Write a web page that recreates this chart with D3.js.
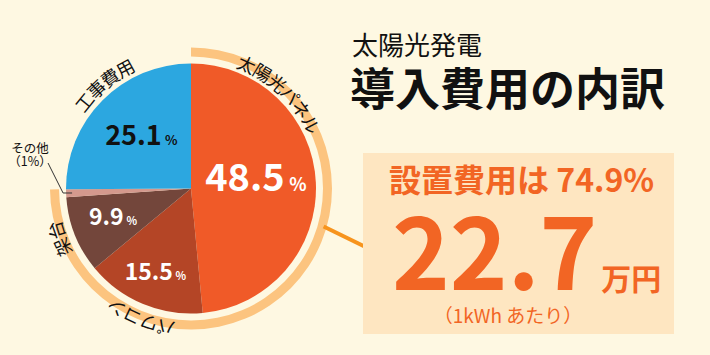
<!DOCTYPE html>
<html>
<head>
<meta charset="utf-8">
<script src="https://cdn.jsdelivr.net/npm/d3@7"></script>
<style>
  body { margin: 0; background: #fef8e2; }
  svg { display: block; font-family: "Noto Sans CJK JP", "Noto Sans", sans-serif; }
</style>
</head>
<body>
<div id="chart"></div>
<script>
// data
const categories = ["太陽光パネル", "パワコン", "架台", "その他", "工事費用"];
const shares = [48.5, 15.5, 9.9, 1, 25.1];
const setupShare = 74.9;          // 設置費用 (panel + powercon + mount + other)
const costPerKwh = 22.7;          // 万円
const titleSub = "太陽光発電";
const titleMain = "導入費用の内訳";

const width = 710, height = 355;
const cx = 191, cy = 188.5, radius = 125;

const colors = ["#f05a28", "#b44526", "#73463b", "#d4998d", "#2ca7e0"];
// label style per slice: radius of number, font size, colour, curved label angle/radius
const labelStyle = [
  { r: 65, size: 38, fill: "#fff", arcAngle: 43, arcR: 137 },
  { r: 93, size: 23, fill: "#fff", arcAngle: 201, arcR: 142 },
  { r: 84, size: 23, fill: "#fff", arcAngle: 249, arcR: 142 },
  null,
  { r: 70, size: 27, fill: "#111", arcAngle: 320, arcR: 138 }
];

const rows = categories.map((c, i) => ({ name: c, share: shares[i], i }));

const svg = d3.select("#chart").append("svg")
  .attr("width", width)
  .attr("height", height);

svg.append("rect").attr("width", width).attr("height", height).attr("fill", "#fef8e2");

const g = svg.append("g").attr("transform", "translate(" + cx + "," + cy + ")");

const pie = d3.pie().sort(null).value(d => d.share);
const arcs = pie(rows);
const arc = d3.arc().innerRadius(0).outerRadius(radius);

// ring around the setup-cost slices
const ringEnd = 2 * Math.PI * setupShare / 100;
g.append("path")
  .attr("d", d3.arc().innerRadius(132).outerRadius(141).startAngle(0).endAngle(ringEnd)())
  .attr("fill", "#fcc47f");

g.selectAll("path.slice")
  .data(arcs)
  .enter().append("path")
  .attr("class", "slice")
  .attr("d", arc)
  .attr("fill", d => colors[d.data.i]);

function polar(angle, r) {
  return [Math.sin(angle) * r, -Math.cos(angle) * r];
}

// number labels
arcs.forEach(d => {
  const st = labelStyle[d.data.i];
  if (!st) return;
  const mid = (d.startAngle + d.endAngle) / 2;
  const p = polar(mid, st.r);
  const t = g.append("text")
    .attr("x", p[0]).attr("y", p[1])
    .attr("dy", "0.36em")
    .attr("text-anchor", "middle")
    .attr("fill", st.fill)
    .attr("font-weight", 700);
  t.append("tspan").attr("font-size", st.size).text(d.data.share.toFixed(1));
  t.append("tspan").attr("font-size", Math.round(st.size * 0.48)).attr("dx", st.size * 0.12).text("%");
});

// curved category labels
const defs = svg.append("defs");
arcs.forEach(d => {
  const st = labelStyle[d.data.i];
  if (!st) return;
  const R = st.arcR;
  const id = "lbl" + d.data.i;
  defs.append("path")
    .attr("id", id)
    .attr("d", `M0,${-R} A${R},${R} 0 1,1 0,${R} A${R},${R} 0 1,1 0,${-R}`);
  g.append("text")
    .attr("font-size", 18)
    .attr("fill", "#111")
    .attr("dominant-baseline", "central")
    .append("textPath")
    .attr("href", "#" + id)
    .attr("startOffset", R * st.arcAngle * Math.PI / 180)
    .attr("text-anchor", "middle")
    .text(d.data.name);
});

// その他 label + leader
const other = arcs[3];
const otherMid = (other.startAngle + other.endAngle) / 2;
const otherEnd = polar(otherMid, radius - 6);
const otherLabel = [30 - cx, 0];
const lt = svg.append("text")
  .attr("text-anchor", "middle")
  .attr("font-size", 12.5)
  .attr("fill", "#111");
lt.append("tspan").attr("x", 30).attr("y", 153).text("その他");
lt.append("tspan").attr("x", 30).attr("y", 166).text("（" + other.data.share + "%）");
g.append("path")
  .attr("d", d3.line()([[48 - cx, 163 - cy], [otherEnd[0] - 9, otherEnd[1]], otherEnd]))
  .attr("fill", "none")
  .attr("stroke", "#333")
  .attr("stroke-width", 1);

// titles
svg.append("text")
  .attr("x", 352).attr("y", 55)
  .attr("font-size", 26)
  .attr("fill", "#111")
  .text(titleSub);
svg.append("text")
  .attr("x", 350).attr("y", 106)
  .attr("font-size", 45)
  .attr("font-weight", 700)
  .attr("fill", "#111")
  .text(titleMain);

// cost box
const box = { x: 363, y: 153, w: 311, h: 181 };
const leadStart = polar(106 * Math.PI / 180, 138);
g.append("line")
  .attr("x1", leadStart[0]).attr("y1", leadStart[1])
  .attr("x2", 382 - cx).attr("y2", 255 - cy)
  .attr("stroke", "#f7941d")
  .attr("stroke-width", 4);

svg.append("rect")
  .attr("x", box.x).attr("y", box.y)
  .attr("width", box.w).attr("height", box.h)
  .attr("fill", "#fee6c1");

const orange = "#f26524";
svg.append("text")
  .attr("x", 389).attr("y", 192)
  .attr("font-size", 32)
  .attr("font-weight", 700)
  .attr("fill", orange)
  .text("設置費用は " + setupShare + "%");

const big = svg.append("text")
  .attr("x", 392).attr("y", 290)
  .attr("font-weight", 700)
  .attr("fill", orange);
big.append("tspan").attr("font-size", 98).text(costPerKwh.toFixed(1));
big.append("tspan").attr("font-size", 30).attr("dx", 4).text("万円");

svg.append("text")
  .attr("x", 508).attr("y", 323)
  .attr("text-anchor", "middle")
  .attr("font-size", 19)
  .attr("fill", orange)
  .text("（1kWh あたり）");
</script>
</body>
</html>
